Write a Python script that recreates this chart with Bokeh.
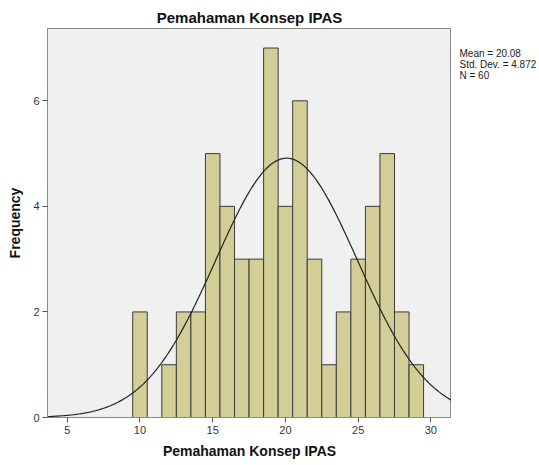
import numpy as np
from bokeh.plotting import figure
from bokeh.layouts import row
from bokeh.models import Range1d, FixedTicker, ColumnDataSource
from bokeh.core.properties import value
from bokeh.embed import file_html
from bokeh.resources import INLINE

# Data
bin_centers = [10, 11, 12, 13, 14, 15, 16, 17, 18, 19, 20, 21, 22, 23, 24, 25, 26, 27, 28, 29]
counts =      [2, 0, 1, 2, 2, 5, 4, 3, 3, 7, 4, 6, 3, 1, 2, 3, 4, 5, 2, 1]
mean_val = 20.08
std_val = 4.872
n_val = 60
bin_width = 1.0
x_ticks = [5, 10, 15, 20, 25, 30]
y_ticks = [0, 2, 4, 6]
title_text = "Pemahaman Konsep IPAS"
x_label = "Pemahaman Konsep IPAS"
y_label = "Frequency"
stats_lines = ["Mean = 20.08", "Std. Dev. = 4.872", "N = 60"]

X0, X1 = 3.64, 31.42
Y0, Y1 = 0.0, 7.37
FONT = "Liberation Sans"
H = 461

p = figure(width=451, height=H, output_backend="svg", toolbar_location=None,
           x_range=Range1d(X0, X1), y_range=Range1d(Y0, Y1),
           min_border_left=47, min_border_right=0, min_border_top=28, min_border_bottom=H - 417)
p.background_fill_color = "#F0F0F0"
p.border_fill_color = "white"
p.outline_line_color = "#8a8a8a"
p.outline_line_width = 1
p.grid.visible = False

p.title.text = title_text
p.title.align = "center"
p.title.text_font = FONT
p.title.text_font_size = "15px"
p.title.text_font_style = "bold"
p.title.text_color = "#111111"
p.title.standoff = 6

c = np.array(bin_centers, dtype=float)
h = np.array(counts, dtype=float)
mask = h > 0
p.quad(left=c[mask] - bin_width / 2, right=c[mask] + bin_width / 2, bottom=0, top=h[mask],
       fill_color="#D3CE97", line_color="#3a3a3a", line_width=1)

xs = np.linspace(X0, X1, 300)
ys = n_val * bin_width * np.exp(-0.5 * ((xs - mean_val) / std_val) ** 2) / (std_val * np.sqrt(2 * np.pi))
p.line(xs, ys, line_color="#222222", line_width=1.2)

for ax in (p.xaxis[0], p.yaxis[0]):
    ax.axis_line_color = "#8a8a8a"
    ax.major_tick_line_color = "#555555"
    ax.major_tick_out = 5
    ax.major_tick_in = 0
    ax.minor_tick_line_color = None
    ax.major_label_text_font = FONT
    ax.major_label_text_font_size = "11px"
    ax.major_label_text_color = "#333333"
    ax.major_label_standoff = 3
    ax.axis_label_text_font = FONT
    ax.axis_label_text_font_size = "14px"
    ax.axis_label_text_font_style = "bold"
    ax.axis_label_text_color = "#111111"
p.xaxis.ticker = FixedTicker(ticks=x_ticks)
p.yaxis.ticker = FixedTicker(ticks=y_ticks)
p.xaxis.axis_label = x_label
p.xaxis.axis_label_standoff = 6
p.yaxis.axis_label = y_label
p.yaxis.axis_label_standoff = 7

# Stats panel on the right (its frame is aligned with the main frame: y 28..417)
s = figure(width=88, height=H, output_backend="svg", toolbar_location=None, title=None,
           x_range=Range1d(0, 88), y_range=Range1d(417, 28),
           min_border=0)
s.outline_line_color = None
s.background_fill_color = "white"
s.border_fill_color = "white"
s.axis.visible = False
s.grid.visible = False
src = ColumnDataSource(dict(x=[8] * len(stats_lines), y=[53 + 11 * i for i in range(len(stats_lines))],
                            t=stats_lines))
s.text(x="x", y="y", text="t", source=src, text_font=value(FONT), text_font_size="10px",
       text_align="left", text_baseline="middle", text_color="#222222")

layout = row(p, s, spacing=0)
open("out.html", "w").write(file_html(layout, INLINE))
